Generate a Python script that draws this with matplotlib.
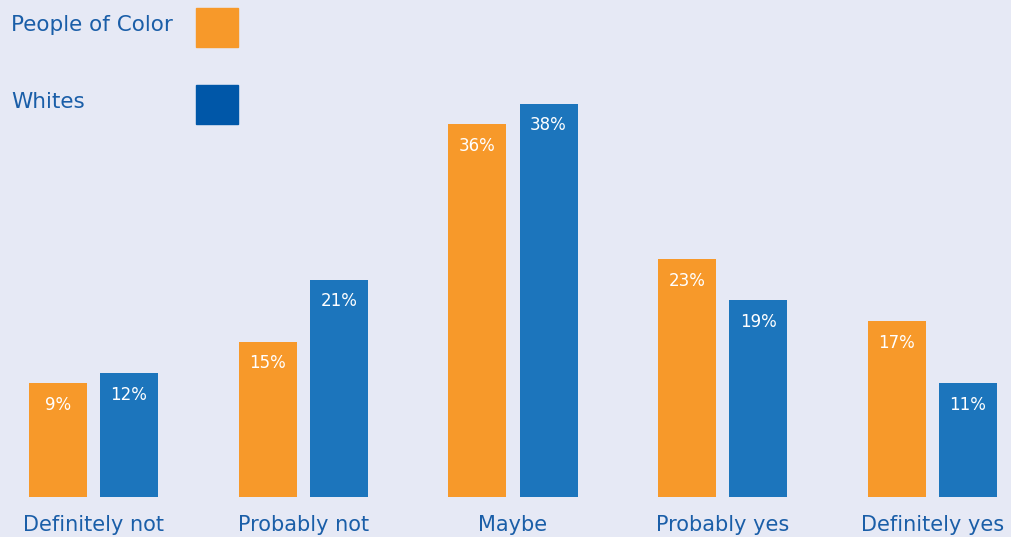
import numpy as np
import matplotlib
matplotlib.use("Agg")
import matplotlib.pyplot as plt

# data
categories = ["Definitely not", "Probably not", "Maybe", "Probably yes", "Definitely yes"]
people_of_color = [11, 15, 36, 23, 17]   # first bar is drawn taller than its 9% label
whites = [12, 21, 38, 19, 11]
poc_labels = ["9%", "15%", "36%", "23%", "17%"]
white_labels = ["12%", "21%", "38%", "19%", "11%"]

bg = "#e6e9f5"
orange = "#f7992a"
blue = "#1c75bc"
legend_blue = "#0057a8"
text_col = "#1a5ea8"

plt.rcParams['font.family'] = ['DejaVu Sans']

fig = plt.figure(figsize=(10.11, 5.37), dpi=100)
fig.patch.set_facecolor(bg)
ax = fig.add_axes([0, 40 / 537, 1, 497 / 537])
ax.set_facecolor(bg)
px_per_unit = 209.75
ax.set_xlim(-93.5 / px_per_unit, (1011 - 93.5) / px_per_unit)
ax.set_ylim(0, 497 / 10.35)
ax.axis("off")

x = np.arange(len(categories))
w = 58 / px_per_unit
off = 35.5 / px_per_unit
b1 = ax.bar(x - off, people_of_color, w, color=orange)
b2 = ax.bar(x + off, whites, w, color=blue)

for bars, labs in ((b1, poc_labels), (b2, white_labels)):
    for rect, lab in zip(bars, labs):
        ax.text(rect.get_x() + rect.get_width() / 2, rect.get_height() - 2.1, lab,
                ha="center", va="center", color="white", fontsize=12)

for xi, cat in zip(x, categories):
    ax.text(xi, -2.75, cat, ha="center", va="center", color=text_col,
            fontsize=15, clip_on=False)

# legend
fig.text(11 / 1011, 1 - 25 / 537, "People of Color", ha="left", va="center",
         color=text_col, fontsize=15.5)
fig.text(11 / 1011, 1 - 102 / 537, "Whites", ha="left", va="center",
         color=text_col, fontsize=15.5)
fig.patches.append(plt.Rectangle((196 / 1011, 1 - 47 / 537), 42 / 1011, 39 / 537,
                                 transform=fig.transFigure, color=orange))
fig.patches.append(plt.Rectangle((196 / 1011, 1 - 124 / 537), 42 / 1011, 39 / 537,
                                 transform=fig.transFigure, color=legend_blue))

fig.savefig("out.png", dpi=100, facecolor=bg)
